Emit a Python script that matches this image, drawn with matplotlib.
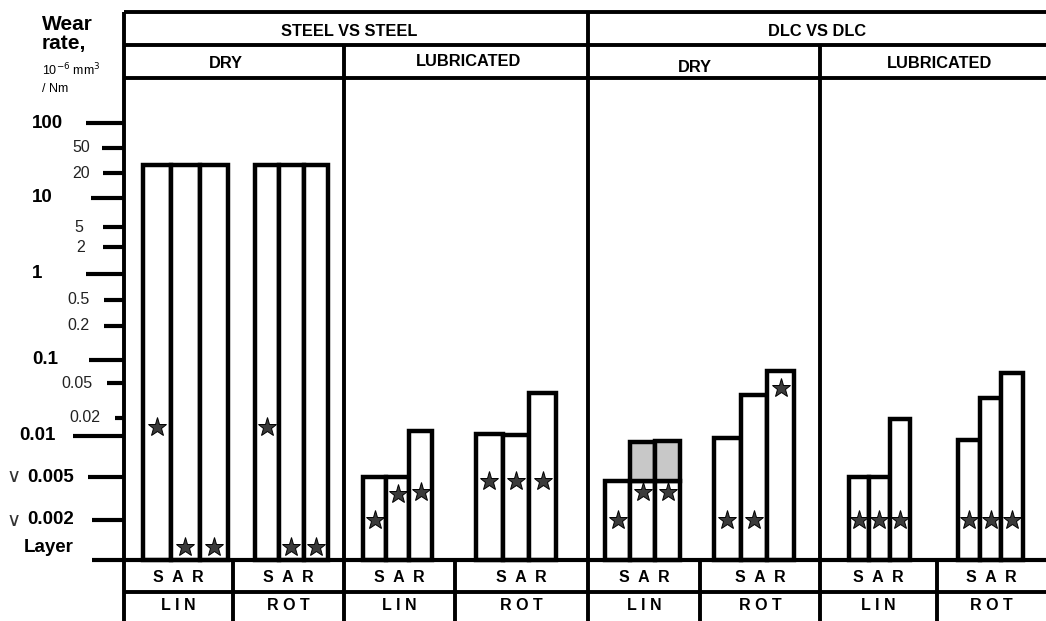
import matplotlib
matplotlib.use("Agg")
import matplotlib.pyplot as plt
import numpy as np

plt.rcParams["font.family"] = ["Liberation Sans", "DejaVu Sans"]

# ------------------------------------------------------------
# data (wear rate, 10^-6 mm3/Nm) -- order: LIN S A R, ROT S A R
# ------------------------------------------------------------
LAYERS = ["S", "A", "R"]
MOTIONS = ["LIN", "ROT"]
MATERIALS = ["STEEL VS STEEL", "DLC VS DLC"]
CONDITIONS = ["DRY", "LUBRICATED"]

steel_dry_wear = [27, 27, 27, 27, 27, 27]
steel_dry_star = [0.014, 0.00125, 0.00125, 0.014, 0.00125, 0.00125]
steel_lub_wear = [0.005, 0.005, 0.012, 0.011, 0.0105, 0.038]
steel_lub_star = [0.002, 0.0035, 0.0036, 0.0046, 0.0046, 0.0046]
dlc_dry_wear = [0.0046, 0.0046, 0.0046, 0.0097, 0.0365, 0.072]
dlc_dry_cap = [np.nan, 0.009, 0.0092, np.nan, np.nan, np.nan]   # grey part on top
dlc_dry_star = [0.002, 0.0036, 0.0036, 0.002, 0.002, 0.044]
dlc_lub_wear = [0.005, 0.005, 0.019, 0.0093, 0.034, 0.068]
dlc_lub_star = [0.002, 0.002, 0.002, 0.002, 0.002, 0.002]

TICK_VALUES = [100, 50, 20, 10, 5, 2, 1, 0.5, 0.2, 0.1, 0.05, 0.02, 0.01, 0.005, 0.002]
TICK_LABELS = ["100", "50", "20", "10", "5", "2", "1", "0.5", "0.2",
               "0.1", "0.05", "0.02", "0.01", "0.005", "0.002"]
TICK_MAJOR = [1, 0, 0, 1, 0, 0, 1, 0, 0, 1, 0, 0, 1, 1, 1]
LAYER_VALUE = 0.001

# ------------------------------------------------------------
# layout (pixels of the 1046x621 picture)
# ------------------------------------------------------------
W, H = 1046, 621
# the axis is not a true log axis: each tick sits at its own height
NODE_VALUES = [1e-6, 0.001, 0.002, 0.005, 0.01, 0.02, 0.05, 0.1, 0.2, 0.5,
               1, 2, 5, 10, 20, 50, 100, 1e6]
NODE_PIX = np.array([960, 560, 520, 477, 436, 418, 383, 360, 326, 300,
                     274, 247, 227, 198, 173, 148, 123, -177], float)
NODE_LOG = np.log10(NODE_VALUES)


def fwd(v):
    lv = np.log10(np.clip(np.asarray(v, float), 1e-12, None))
    return -np.interp(lv, NODE_LOG, NODE_PIX)


def inv(p):
    return 10 ** np.interp(np.asarray(p, float), -NODE_PIX, NODE_LOG)


group_left = [143, 255, 363, 476, 605, 714, 849, 958]
group_width = [28.3, 24.3, 23, 26.7, 25, 26.7, 20.3, 21.7]
tick_x0 = [86, 102, 103, 91, 103, 103, 86, 104, 104, 89, 107, 115, 73, 88, 92]
label_x = [32, 90, 90, 32, 83, 85, 32, 90, 90, 32, 93, 100, 19, 27, 27]

fig = plt.figure(figsize=(W / 100, H / 100), dpi=100)
ax = fig.add_axes([0, 0, 1, 1])
ax.set_yscale("function", functions=(fwd, inv))
ax.set_xlim(0, W)
ax.set_ylim(inv(-H), inv(0))
ax.axis("off")

frame = fig.add_axes([0, 0, 1, 1])
frame.set_xlim(0, W)
frame.set_ylim(H, 0)
frame.axis("off")
frame.patch.set_alpha(0)

# ---- bars + stars
wear = [steel_dry_wear[:3], steel_dry_wear[3:], steel_lub_wear[:3], steel_lub_wear[3:],
        dlc_dry_wear[:3], dlc_dry_wear[3:], dlc_lub_wear[:3], dlc_lub_wear[3:]]
stars = [steel_dry_star[:3], steel_dry_star[3:], steel_lub_star[:3], steel_lub_star[3:],
         dlc_dry_star[:3], dlc_dry_star[3:], dlc_lub_star[:3], dlc_lub_star[3:]]

for g, (vals, svals) in enumerate(zip(wear, stars)):
    xs = group_left[g] + group_width[g] * np.arange(3)
    vals = np.array(vals)
    ax.bar(xs, vals - LAYER_VALUE, bottom=LAYER_VALUE, width=group_width[g],
           align="edge", facecolor="white", edgecolor="black", linewidth=3.2, zorder=2)
    if g == 4:
        cap = np.array(dlc_dry_cap[:3])
        ok = ~np.isnan(cap)
        ax.bar(xs[ok], cap[ok] - vals[ok], bottom=vals[ok], width=group_width[g],
               align="edge", facecolor="#c8c8c8", edgecolor="black", linewidth=3.2, zorder=2)
    ax.plot(xs + group_width[g] / 2, svals, ls="none", marker="*", ms=14,
            mfc="#3a3a3a", mec="black", mew=0.7, zorder=3)

# ---- y axis: ticks and labels
ax.hlines(TICK_VALUES, tick_x0, 124, color="black", lw=3, zorder=4)
ax.hlines(LAYER_VALUE, 92, W, color="black", lw=3, zorder=4)
for v, lab, major, lx in zip(TICK_VALUES, TICK_LABELS, TICK_MAJOR, label_x):
    if major:
        ax.text(lx, v, lab, ha="left", va="center", fontsize=13.5, fontweight="bold")
        if lab in ("0.005", "0.002"):
            ax.text(6, v, "\u2228", ha="left", va="center", fontsize=14,
                    color="#333333", family=["DejaVu Sans"])
    else:
        ax.text(lx, v, lab, ha="right", va="center", fontsize=11.5, color="#222222")

frame.text(24, 547, "Layer", ha="left", va="center", fontsize=13.5, fontweight="bold")
frame.text(42, 24, "Wear", ha="left", va="center", fontsize=15, fontweight="bold")
frame.text(42, 44, "rate,", ha="left", va="center", fontsize=15, fontweight="bold")
frame.text(42, 70, "10$^{-6}$ mm$^3$", ha="left", va="center", fontsize=9)
frame.text(42, 89, "/ Nm", ha="left", va="center", fontsize=9)

# ---- header / footer table
lw = 2.8
frame.hlines([12, 45, 78], 124, W, color="black", lw=lw)
frame.hlines(592, 124, W, color="black", lw=lw)
frame.vlines(124, 12, H, color="black", lw=lw)
frame.vlines(588, 12, H, color="black", lw=lw)
frame.vlines([344, 820], 45, H, color="black", lw=lw)
frame.vlines([233, 455, 700, 937], 560, H, color="black", lw=lw)

for x, t in zip([349, 817], MATERIALS):
    frame.text(x, 31, t, ha="center", va="center", fontsize=11.8, fontweight="bold")
for x, y, t in zip([226, 469, 695, 940], [63, 62, 67, 63], CONDITIONS * 2):
    frame.text(x, y, t, ha="center", va="center", fontsize=11.8, fontweight="bold")

cell_edges = [124, 233, 344, 455, 588, 700, 820, 937, W]
for i in range(8):
    cx = (cell_edges[i] + cell_edges[i + 1]) / 2
    frame.text(cx, 577, "  ".join(LAYERS), ha="center", va="center",
               fontsize=11.5, fontweight="bold")
    frame.text(cx, 606, " ".join(MOTIONS[i % 2]), ha="center", va="center",
               fontsize=11.5, fontweight="bold")

fig.savefig("out.png", dpi=100)
